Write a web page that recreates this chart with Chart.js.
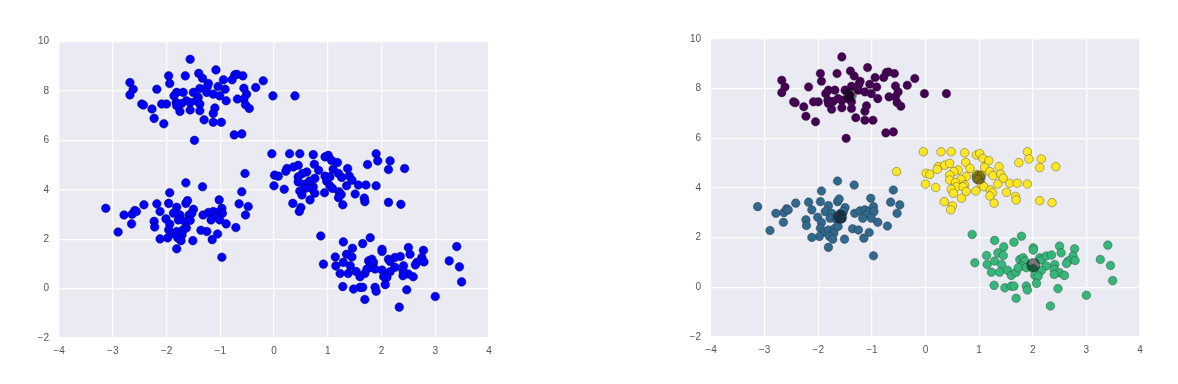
<!DOCTYPE html>
<html>
<head>
<meta charset="utf-8">
<title>Blobs and k-means clusters</title>
<script src="https://cdn.jsdelivr.net/npm/chart.js"></script>
<style>
  body { margin: 0; background: #fff; width: 1178px; height: 384px; position: relative; overflow: hidden; }
  canvas { position: absolute; top: 0; }
  #raw { left: 0; }
  #clustered { left: 652px; }
</style>
</head>
<body>
<canvas id="raw" width="500" height="384"></canvas>
<canvas id="clustered" width="500" height="384"></canvas>
<script>
// points, grouped by the cluster they end up in
const purplePts = [
  [-1.56,9.28],[-1.08,8.85],[-1.96,8.61],[-1.65,8.61],[-1.40,8.71],[-1.33,8.51],[-0.69,8.67],[-0.58,8.61],
  [-0.73,8.65],[-0.94,8.45],[-0.78,8.45],[-0.20,8.41],[-2.68,8.34],[-1.94,8.30],[-1.22,8.30],[-1.24,8.18],
  [-1.04,8.18],[-0.34,8.14],[-2.62,8.07],[-2.18,8.07],[-1.38,8.10],[-0.56,8.11],[-0.91,8.07],[-1.81,7.94],
  [-1.69,7.94],[-1.50,7.94],[-1.25,7.94],[-1.13,7.87],[-1.01,7.80],[-0.51,7.87],[-0.02,7.80],[0.39,7.80],
  [-2.68,7.84],[-1.86,7.80],[-1.41,7.74],[-0.68,7.67],[-0.56,7.67],[-0.89,7.60],[-1.63,7.60],[-1.45,7.60],
  [-1.82,7.53],[-2.00,7.47],[-2.09,7.47],[-2.46,7.47],[-2.43,7.43],[-1.72,7.49],[-1.38,7.47],[-1.56,7.53],
  [-0.53,7.44],[-0.46,7.29],[-1.10,7.31],[-2.27,7.27],[-1.81,7.40],[-1.75,7.17],[-1.56,7.23],[-1.38,7.20],
  [-1.13,7.09],[-2.23,6.89],[-2.05,6.67],[-1.30,6.83],[-1.13,6.73],[-0.98,6.73],[-0.74,6.22],[-0.60,6.26],
  [-1.48,6.00]
];
const bluePts = [
  [-1.64,4.28],[-1.33,4.12],[-1.94,3.88],[-0.60,3.92],[-3.13,3.25],[-2.79,2.98],[-2.64,3.01],[-2.59,3.16],
  [-2.56,3.12],[-2.42,3.39],[-2.18,3.43],[-1.96,3.45],[-1.81,3.29],[-1.64,3.45],[-1.61,3.56],[-1.50,3.21],
  [-2.12,3.12],[-1.87,3.05],[-1.75,2.98],[-1.58,2.98],[-1.53,3.05],[-2.01,2.82],[-2.23,2.72],[-1.78,2.78],
  [-1.66,2.72],[-1.56,2.76],[-1.32,2.98],[-1.22,3.08],[-1.13,3.12],[-1.04,3.08],[-0.97,3.25],[-1.02,3.59],
  [-0.65,3.43],[-0.48,3.32],[-0.53,2.98],[-0.96,3.05],[-1.10,2.92],[-1.01,2.78],[-1.17,2.78],[-0.89,2.62],
  [-0.71,2.47],[-2.65,2.62],[-2.90,2.29],[-2.22,2.49],[-1.94,2.61],[-1.96,2.38],[-1.89,2.22],[-1.81,2.31],
  [-1.69,2.38],[-1.63,2.45],[-1.71,2.18],[-1.79,2.05],[-1.73,1.94],[-1.98,2.05],[-2.12,2.01],[-1.36,2.36],
  [-1.25,2.31],[-1.05,2.21],[-1.15,1.98],[-1.51,1.94],[-1.81,1.61],[-0.97,1.27]
];
const yellowPts = [
  [-0.54,4.66],[-0.04,5.46],[0.29,5.46],[0.48,5.46],[0.73,5.42],[0.95,5.33],[1.01,5.39],[1.07,5.19],
  [1.18,5.10],[0.75,5.03],[0.24,4.86],[0.36,4.92],[0.45,4.99],[0.22,4.75],[1.90,5.46],[1.93,5.17],
  [2.16,5.17],[1.74,5.02],[2.13,4.82],[2.43,4.86],[1.37,4.86],[1.10,4.83],[0.83,4.79],[0.61,4.72],
  [0.53,4.66],[0.45,4.52],[0.01,4.59],[0.08,4.55],[0.95,4.55],[1.04,4.52],[1.20,4.66],[1.26,4.50],
  [1.40,4.56],[1.45,4.39],[0.76,4.46],[0.66,4.35],[0.45,4.32],[0.56,4.22],[0.73,4.12],[0.98,4.35],
  [1.04,4.16],[1.09,4.05],[0.58,4.05],[0.48,3.95],[0.70,4.05],[0.76,3.86],[0.00,4.16],[0.19,4.02],
  [0.94,3.88],[0.52,3.79],[1.21,3.92],[1.25,3.81],[1.20,3.68],[1.28,3.39],[1.35,4.16],[1.57,4.19],
  [1.71,4.19],[1.90,4.16],[1.51,3.83],[1.68,3.66],[1.69,3.52],[0.67,3.59],[0.35,3.45],[0.50,3.28],
  [0.47,3.12],[2.13,3.49],[2.36,3.41]
];
const greenPts = [
  [0.87,2.13],[1.29,1.89],[1.65,1.82],[1.79,2.06],[1.46,1.63],[0.92,0.99],[1.14,1.28],[1.35,1.39],
  [1.45,1.28],[1.15,0.92],[1.29,1.06],[1.42,0.92],[1.23,0.61],[1.38,0.61],[1.53,0.69],[1.60,0.48],
  [1.69,0.61],[1.76,1.12],[1.82,1.19],[1.85,1.06],[1.79,0.86],[1.73,0.79],[1.88,0.79],[2.01,1.59],
  [2.01,1.50],[2.13,1.19],[2.16,1.10],[2.25,1.26],[2.35,1.30],[2.50,1.66],[2.53,1.39],[2.78,1.55],
  [2.75,1.26],[2.66,1.06],[2.63,0.96],[2.79,1.08],[2.41,0.92],[2.40,0.72],[2.25,0.86],[2.16,0.68],
  [2.01,0.75],[2.04,0.48],[2.10,0.45],[2.07,0.16],[2.50,0.59],[2.59,0.48],[2.40,0.52],[1.28,0.08],
  [1.48,-0.02],[1.60,0.05],[1.65,0.05],[1.88,0.05],[1.90,-0.11],[2.47,-0.05],[1.69,-0.44],[2.33,-0.75],
  [3.00,-0.32],[3.26,1.12],[3.40,1.70],[3.45,0.88],[3.49,0.27]
];
const centers = [[-1.41,7.75],[-1.59,2.84],[0.99,4.42],[2.01,0.90]];

const xTicks = [-4, -3, -2, -1, 0, 1, 2, 3, 4];
const yTicks = [-2, 0, 2, 4, 6, 8, 10];

const toXY = pts => pts.map(p => ({ x: p[0], y: p[1] }));

function makeOptions(top, bottom, right) {
  const tickFont = { family: 'Arial, "Liberation Sans", sans-serif', size: 10 };
  const minus = v => String(v).replace('-', '\u2212');
  return {
    responsive: false,
    animation: false,
    layout: { padding: { top: top, bottom: bottom, right: right, left: 0 } },
    plugins: { legend: { display: false }, tooltip: { enabled: false } },
    scales: {
      x: {
        type: 'linear', min: xTicks[0], max: xTicks[xTicks.length - 1],
        afterBuildTicks: s => { s.ticks = xTicks.map(v => ({ value: v })); },
        afterFit: s => { s.height = 30; },
        grid: { color: '#ffffff', lineWidth: 1.2, drawTicks: false },
        border: { display: false },
        ticks: { color: '#555555', font: tickFont, padding: 7, maxRotation: 0, callback: minus }
      },
      y: {
        type: 'linear', min: yTicks[0], max: yTicks[yTicks.length - 1],
        afterBuildTicks: s => { s.ticks = yTicks.map(v => ({ value: v })); },
        afterFit: s => { s.width = 59; },
        grid: { color: '#ffffff', lineWidth: 1.2, drawTicks: false },
        border: { display: false },
        ticks: { color: '#555555', font: tickFont, padding: 10, callback: minus }
      }
    }
  };
}

// grey plot background like seaborn's darkgrid
const bgPlugin = {
  id: 'bg',
  beforeDraw(chart) {
    const a = chart.chartArea, ctx = chart.ctx;
    ctx.save();
    ctx.fillStyle = '#eaeaf2';
    ctx.fillRect(a.left, a.top, a.right - a.left, a.bottom - a.top);
    ctx.restore();
  }
};

const allPts = purplePts.concat(bluePts, yellowPts, greenPts);

new Chart(document.getElementById('raw'), {
  type: 'scatter',
  data: {
    datasets: [{
      data: toXY(allPts),
      backgroundColor: '#0000ff',
      borderColor: 'rgba(0,0,90,0.8)',
      borderWidth: 0.6,
      pointRadius: 4.3
    }]
  },
  options: makeOptions(41.5, 16, 11),
  plugins: [bgPlugin]
});

function clusterSet(pts, color) {
  return {
    data: toXY(pts),
    backgroundColor: color,
    borderColor: 'rgba(40,40,40,0.6)',
    borderWidth: 0.6,
    pointRadius: 4.3,
    order: 1
  };
}

new Chart(document.getElementById('clustered'), {
  type: 'scatter',
  data: {
    datasets: [
      // centres first so they sit on top of the points
      {
        data: toXY(centers),
        backgroundColor: 'rgba(0,0,0,0.5)',
        borderColor: 'rgba(0,0,0,0)',
        borderWidth: 0,
        pointRadius: 7,
        order: 0
      },
      clusterSet(purplePts, '#440154'),
      clusterSet(bluePts, '#31688e'),
      clusterSet(yellowPts, '#fde725'),
      clusterSet(greenPts, '#35b779')
    ]
  },
  options: makeOptions(39, 17, 12),
  plugins: [bgPlugin]
});
</script>
</body>
</html>
